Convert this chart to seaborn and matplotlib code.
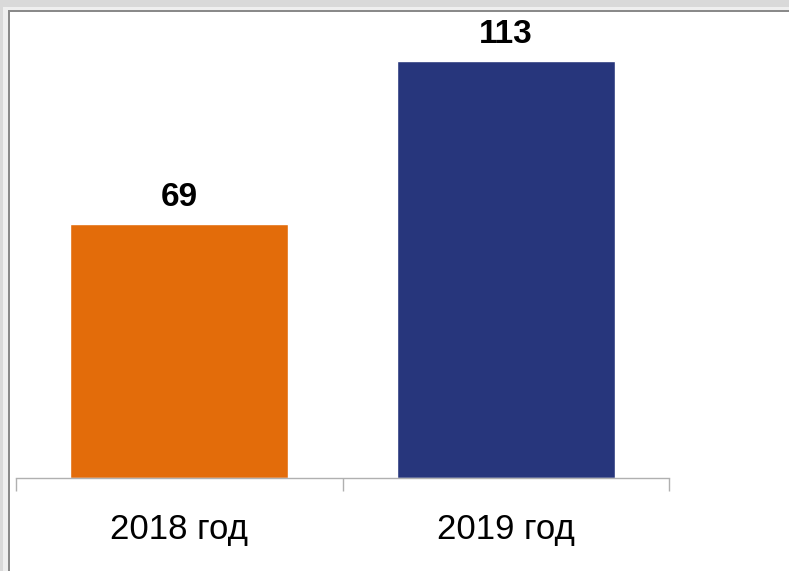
import matplotlib
matplotlib.use("Agg")
import matplotlib.pyplot as plt
from matplotlib.patches import Rectangle
import seaborn as sns
import pandas as pd

categories = ["2018 год", "2019 год"]
values = [69, 113]
colors = ["#E36C0A", "#27367C"]

sns.set_theme(style="white")
plt.rcParams['font.family'] = ['Liberation Sans', 'DejaVu Sans']

W, H = 789, 571
fig = plt.figure(figsize=(W / 100, H / 100), dpi=100)
fig.patch.set_facecolor("white")

def px_rect(x0, y0, x1, y1, color, z):
    # pixel coords from top-left
    fig.add_artist(Rectangle((x0 / W, 1 - y1 / H), (x1 - x0) / W, (y1 - y0) / H,
                             transform=fig.transFigure, facecolor=color,
                             edgecolor="none", zorder=z))

# window frame look
px_rect(0, 0, W, 7, "#d9d9d9", 0)
px_rect(0, 0, 3, H, "#d9d9d9", 0)
px_rect(3, 7, W, 10, "#efefef", 0)
px_rect(3, 7, 8, H, "#efefef", 0)
px_rect(8, 10, W, 12, "#8a8a8a", 0)
px_rect(8, 10, 10, H, "#8a8a8a", 0)

left, right, bottom_px, top_px = 16, 669, 478, 12
ax = fig.add_axes([left / W, 1 - bottom_px / H, (right - left) / W, (bottom_px - top_px) / H])
ax.set_facecolor("none")

df = pd.DataFrame({"cat": categories, "val": values})
sns.barplot(data=df, x="cat", y="val", hue="cat", palette=colors, dodge=False,
            width=0.667, legend=False, ax=ax, saturation=1)

ax.set_xlim(-0.5, 1.5)
ax.set_ylim(0, 126.4)
ax.set_xlabel("")
ax.set_ylabel("")
ax.set_yticks([])
for s in ["top", "left", "right"]:
    ax.spines[s].set_visible(False)
ax.spines["bottom"].set_color("#b0b0b0")
ax.spines["bottom"].set_linewidth(1.0)

ax.set_xticks([0, 1])
ax.set_xticklabels(categories, fontsize=25)
ax.set_xticks([-0.5, 0.5, 1.5], minor=True)
ax.tick_params(axis="x", which="major", bottom=True, length=0, pad=25, colors="black")
ax.tick_params(axis="x", which="minor", bottom=True, length=9, width=1.0,
               color="#b0b0b0", direction="out")

for i, v in enumerate(values):
    ax.annotate(str(v), (i, v), xytext=(0, 8), textcoords="offset points",
                ha="center", va="bottom", fontsize=24, fontweight="bold", color="black")

fig.savefig("out.png", dpi=100)
